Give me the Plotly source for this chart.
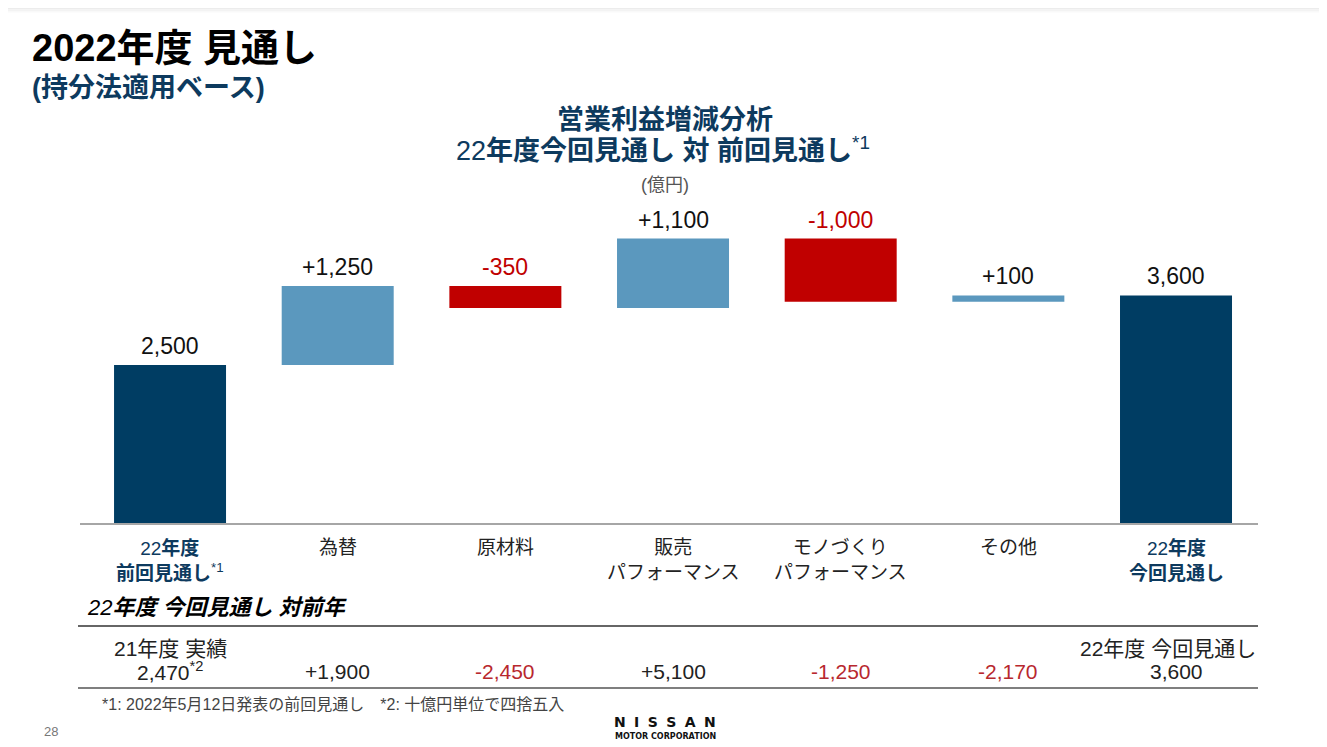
import plotly.graph_objects as go

# ---------------- data ----------------
categories = ["22年度 前回見通し", "為替", "原材料", "販売 パフォーマンス",
              "モノづくり パフォーマンス", "その他", "22年度 今回見通し"]
cat_labels = [
    "22<b>年度</b><br><b>前回見通し</b><sup>*1</sup>",
    "為替",
    "原材料",
    "販売<br>パフォーマンス",
    "モノづくり<br>パフォーマンス",
    "その他",
    "22<b>年度</b><br><b>今回見通し</b>",
]
values = [2500, 1250, -350, 1100, -1000, 100, 3600]
measures = ["absolute", "relative", "relative", "relative", "relative", "relative", "total"]

yoy_values = [2470, 1900, -2450, 5100, -1250, -2170, 3600]
yoy_head_left = "21年度 実績"
yoy_head_right = "22年度 今回見通し"

# ---------------- style ----------------
NAVY = "#003D63"
NAVY_TXT = "#0D3A5E"
LIGHT = "#5B98BE"
RED = "#C00000"
RED_T = "#B8282E"
FONT = "Liberation Sans, Noto Sans CJK JP, sans-serif"

OFF = 8  # page body margin
VW, VH = 1327, 747
W, H = VW - OFF, VH - OFF
L, R, T, B = 80, 1258, 180, 523   # plot area in viewport pixels


def px(x):
    return (x - L) / (R - L)


def py(y):
    return (B - y) / (B - T)


xs = list(range(len(categories)))

fig = go.Figure()
fig.add_trace(go.Waterfall(
    x=xs, y=values, measure=measures,
    increasing=dict(marker=dict(color=LIGHT)),
    decreasing=dict(marker=dict(color=RED)),
    totals=dict(marker=dict(color=NAVY)),
    connector=dict(visible=False),
    textinfo="none", hoverinfo="skip",
))

ann = []
# value labels above bars
run = 0
for i, (v, m) in enumerate(zip(values, measures)):
    if m == "relative":
        top = max(run, run + v)
        run += v
        txt = f"{v:+,}"
    else:
        run = v
        top = v
        txt = f"{v:,}"
    ann.append(dict(x=i, y=top, xref="x", yref="y", text=txt, showarrow=False,
                    yanchor="bottom", yshift=4,
                    font=dict(size=23, color=RED if v < 0 else "#111111", family=FONT)))

# category labels
for i, lab in enumerate(cat_labels):
    bold = i in (0, len(cat_labels) - 1)
    ann.append(dict(x=i, y=py(535), xref="x", yref="paper", text=lab, showarrow=False,
                    yanchor="top", align="center",
                    font=dict(size=19, color=NAVY_TXT if bold else "#222222", family=FONT)))

# titles
ann += [
    dict(x=px(30), y=py(48), xref="paper", yref="paper", text="<b>2022年度 見通し</b>",
         showarrow=False, xanchor="left", yanchor="middle",
         font=dict(size=38, color="#000000", family=FONT)),
    dict(x=px(30), y=py(88), xref="paper", yref="paper", text="<b>(持分法適用ベース)</b>",
         showarrow=False, xanchor="left", yanchor="middle",
         font=dict(size=27, color=NAVY_TXT, family=FONT)),
    dict(x=px(665), y=py(120), xref="paper", yref="paper", text="<b>営業利益増減分析</b>",
         showarrow=False, xanchor="center", yanchor="middle",
         font=dict(size=27, color=NAVY_TXT, family=FONT)),
    dict(x=px(663), y=py(149), xref="paper", yref="paper",
         text="22<b>年度今回見通し 対 前回見通し</b><sup>*1</sup>",
         showarrow=False, xanchor="center", yanchor="middle",
         font=dict(size=27, color=NAVY_TXT, family=FONT)),
    dict(x=px(665), y=py(185), xref="paper", yref="paper", text="(億円)",
         showarrow=False, xanchor="center", yanchor="middle",
         font=dict(size=18, color="#555555", family=FONT)),
    dict(x=px(85), y=py(607), xref="paper", yref="paper",
         text="<i>22<b>年度 今回見通し 対前年</b></i>",
         showarrow=False, xanchor="left", yanchor="middle",
         font=dict(size=22, color="#000000", family=FONT)),
]

# yoy table
ann.append(dict(x=0, y=py(648), xref="x", yref="paper", text=yoy_head_left, showarrow=False,
                yanchor="middle", font=dict(size=21, color="#222222", family=FONT)))
ann.append(dict(x=px(1258), y=py(648), xref="paper", yref="paper", text=yoy_head_right,
                showarrow=False, yanchor="middle", xanchor="right",
                font=dict(size=21, color="#222222", family=FONT)))
for i, v in enumerate(yoy_values):
    if i == 0:
        txt = f"{v:,}<sup>*2</sup>"
    elif i == len(yoy_values) - 1:
        txt = f"{v:,}"
    else:
        txt = f"{v:+,}"
    ann.append(dict(x=i, y=py(671), xref="x", yref="paper", text=txt, showarrow=False,
                    yanchor="middle",
                    font=dict(size=21, color=RED_T if v < 0 else "#222222", family=FONT)))

# footnote, page, logo
ann += [
    dict(x=px(100), y=py(704), xref="paper", yref="paper",
         text="*1: 2022年5月12日発表の前回見通し　*2: 十億円単位で四捨五入",
         showarrow=False, xanchor="left", yanchor="middle",
         font=dict(size=16, color="#444444", family=FONT)),
    dict(x=px(42), y=py(731), xref="paper", yref="paper", text="28",
         showarrow=False, xanchor="left", yanchor="middle",
         font=dict(size=13, color="#777777", family=FONT)),
    dict(x=px(665), y=py(722), xref="paper", yref="paper",
         text="<b>N\u2002\u200aI\u2002\u200aS\u2002\u200aS\u2002\u200aA\u2002\u200aN</b>",
         showarrow=False, xanchor="center", yanchor="middle",
         font=dict(size=14, color="#111111", family="DejaVu Sans")),
    dict(x=px(665), y=py(736), xref="paper", yref="paper", text="<b>MOTOR CORPORATION</b>",
         showarrow=False, xanchor="center", yanchor="middle",
         font=dict(size=8, color="#111111", family="DejaVu Sans")),
]

shapes = [
    dict(type="line", xref="paper", yref="paper", x0=px(78), x1=px(1258), y0=py(626), y1=py(626),
         line=dict(color="#333333", width=1.5)),
    dict(type="line", xref="paper", yref="paper", x0=px(78), x1=px(1258), y0=py(688), y1=py(688),
         line=dict(color="#555555", width=1.5)),
]
for k, c in enumerate(["#ececec", "#f3f3f3", "#f9f9f9"]):
    shapes.append(dict(type="rect", xref="paper", yref="paper", x0=px(0), x1=px(VW),
                       y0=py(OFF + 1.5 * k), y1=py(OFF + 1.5 * k + 1.5), fillcolor=c,
                       line=dict(width=0), layer="below"))

fig.update_layout(
    width=W, height=H,
    margin=dict(l=L - OFF, r=VW - R, t=T - OFF, b=VH - B),
    paper_bgcolor="white", plot_bgcolor="white",
    showlegend=False,
    waterfallgap=0.332,
    xaxis=dict(range=[-0.537, 6.489], showticklabels=False, ticks="", showgrid=False,
               zeroline=False, showline=True, linecolor="#a6a6a6", linewidth=1.5,
               fixedrange=True),
    yaxis=dict(range=[0, 5427], visible=False, showgrid=False, zeroline=False, fixedrange=True),
    annotations=ann,
    shapes=shapes,
    font=dict(family=FONT),
)

fig.write_html("out.html")
